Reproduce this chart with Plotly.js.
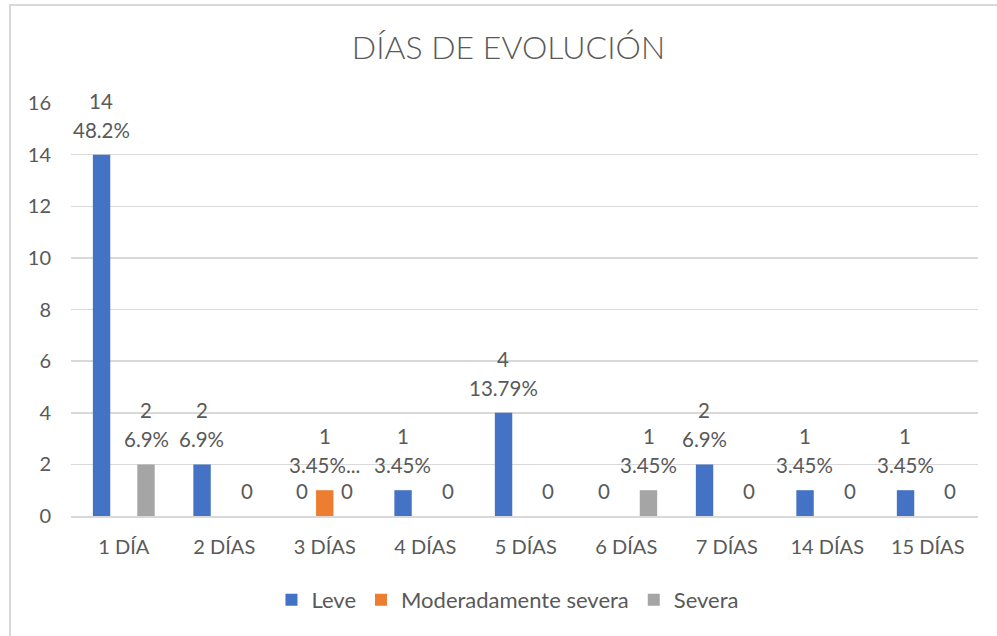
<!DOCTYPE html>
<html>
<head>
<meta charset="utf-8">
<script src="https://cdn.plot.ly/plotly-3.0.1.min.js"></script>
<style>
  html, body { margin: 0; padding: 0; background: #ffffff; }
  #wrap { position: relative; width: 997px; height: 636px; overflow: hidden; }
  #chart { position: absolute; left: 0; top: 0; width: 997px; height: 636px; }
  #frame { position: absolute; left: 9px; top: 4px; width: 1000px; height: 640px;
           border-left: 2px solid #D9D9D9; border-top: 2px solid #D9D9D9; pointer-events: none; }
</style>
</head>
<body>
<div id="wrap">
  <div id="chart"></div>
  <div id="frame"></div>
</div>
<script>
// ---- data ----
const categories = ["1 DÍA", "2 DÍAS", "3 DÍAS", "4 DÍAS", "5 DÍAS", "6 DÍAS", "7 DÍAS", "14 DÍAS", "15 DÍAS"];
const seriesNames = ["Leve", "Moderadamente severa", "Severa"];
const leve      = [14, 2, 0, 1, 4, 0, 2, 1, 1];
const moderada  = [null, null, 1, null, null, null, null, null, null];
const severa    = [2, 0, 0, 0, 0, 1, 0, 0, 0];
const levePct     = ["48.2%", "6.9%", "", "3.45%", "13.79%", "", "6.9%", "3.45%", "3.45%"];
const moderadaPct = ["", "", "3.45%...", "", "", "", "", "", ""];
const severaPct   = ["6.9%", "", "", "", "", "3.45%", "", "", ""];
const yTicks = [0, 2, 4, 6, 8, 10, 12, 14, 16];

// ---- styling ----
const colors = ["#4472C4", "#ED7D31", "#A5A5A5"];
const textColor = "#595959";
const fontFam = "Lato, 'Open Sans', sans-serif";
const labelSize = 20.5;

const seriesValues = [leve, moderada, severa];
const seriesPct = [levePct, moderadaPct, severaPct];

const traces = seriesValues.map((vals, i) => ({
  type: "bar",
  name: seriesNames[i],
  x: categories,
  y: vals,
  marker: { color: colors[i] },
  hoverinfo: "x+y+name"
}));

// slot width for each bar in the group (pixels), derived from layout geometry
const plotLeft = 71, plotRight = 19, W = 997;
const plotW = W - plotLeft - plotRight;
const catW = plotW / categories.length;
const bargap = 0.337;
const slot = catW * (1 - bargap) / seriesValues.length;

const annotations = [];
seriesValues.forEach((vals, i) => {
  const xs = (i - (seriesValues.length - 1) / 2) * slot;
  vals.forEach((v, j) => {
    if (v === null) return;
    const pct = seriesPct[i][j];
    const lines = pct ? [pct, String(v)] : [String(v)];
    lines.forEach((t, k) => {
      annotations.push({ x: categories[j], y: v, xref: "x", yref: "y", text: t,
        showarrow: false, xshift: xs, yshift: 25 + k * 29, yanchor: "middle",
        font: { family: fontFam, size: labelSize, color: textColor } });
    });
  });
});

const layout = {
  width: 997,
  height: 636,
  margin: { l: plotLeft, r: plotRight, t: 103, b: 120 },
  paper_bgcolor: "#ffffff",
  plot_bgcolor: "#ffffff",
  font: { family: fontFam, color: textColor, size: 20 },
  title: {
    text: "DÍAS DE EVOLUCIÓN",
    font: { family: fontFam, size: 32, color: textColor, weight: 300 },
    x: 0.51, xanchor: "center",
    y: 1 - 48 / 636, yref: "container", yanchor: "middle"
  },
  barmode: "group",
  bargap: bargap,
  bargroupgap: 0.216,
  xaxis: {
    type: "category",
    tickfont: { family: fontFam, size: 20, color: textColor },
    showgrid: false,
    showline: true,
    linecolor: "#D9D9D9",
    linewidth: 1.5,
    ticks: "",
    ticklabelstandoff: 12,
    fixedrange: true
  },
  yaxis: {
    range: [0, 16],
    tickvals: yTicks,
    ticktext: yTicks.map(String),
    tickfont: { family: fontFam, size: 20, color: textColor },
    showgrid: true,
    gridcolor: "#D9D9D9",
    gridwidth: 1.5,
    zeroline: false,
    showline: false,
    ticks: "",
    ticklabelstandoff: 19,
    fixedrange: true
  },
  showlegend: true,
  legend: {
    orientation: "h",
    x: 0.509, xanchor: "center", xref: "container",
    y: 1 - 600 / 636, yanchor: "middle", yref: "container",
    font: { family: fontFam, size: 22, color: textColor },
    itemwidth: 30,
    traceorder: "normal"
  },
  annotations: annotations
};

Plotly.newPlot("chart", traces, layout, { displayModeBar: false, staticPlot: true });
</script>
</body>
</html>
